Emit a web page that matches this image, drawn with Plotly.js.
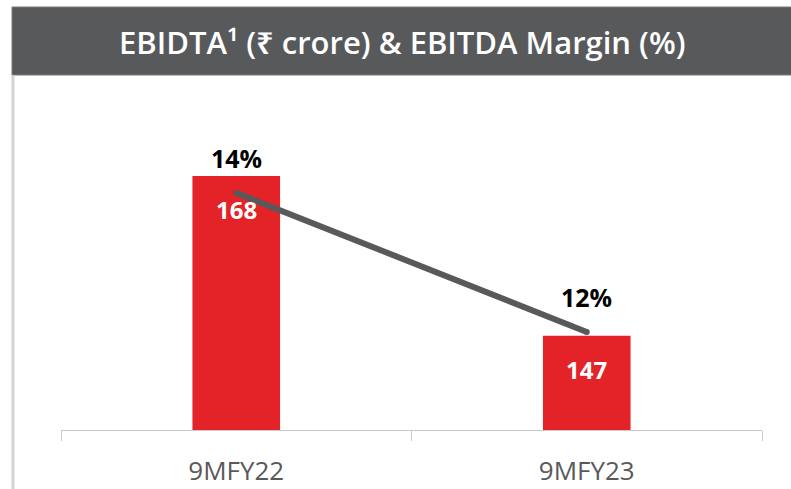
<!DOCTYPE html>
<html>
<head>
<meta charset="utf-8">
<script src="https://cdn.plot.ly/plotly-3.0.1.min.js"></script>
<style>html,body{margin:0;padding:0;background:#fff;}#chart{width:791px;height:489px;}</style>
</head>
<body>
<div id="chart"></div>
<script>
const categories = ["9MFY22", "9MFY23"];
const ebitda = [168, 147];
const margin = [14, 12];
const marginLabels = ["14%", "12%"];
const ebitdaLabels = ["168", "147"];
const titleText = "EBIDTA¹ (₹ crore) & EBITDA Margin (%)";

const FONT = "Open Sans, Noto Sans, sans-serif";

const bars = {
  type: "bar",
  x: categories,
  y: ebitda,
  base: 0,
  width: 0.25,
  marker: {color: "#e42328", line: {width: 0}},
  hoverinfo: "skip",
  showlegend: false
};
const line = {
  type: "scatter",
  mode: "lines+markers",
  x: categories,
  y: margin,
  yaxis: "y2",
  line: {color: "#58595b", width: 6},
  marker: {color: "#58595b", size: 6},
  hoverinfo: "skip",
  showlegend: false
};

const annotations = [];
categories.forEach((c, i) => {
  annotations.push({
    x: c, y: margin[i], xref: "x", yref: "y2",
    text: marginLabels[i], showarrow: false, yshift: 35,
    font: {family: FONT, size: 25, color: "#000", weight: 700}
  });
  annotations.push({
    x: c, y: ebitda[i], xref: "x", yref: "y",
    text: ebitdaLabels[i], showarrow: false, yshift: -34,
    font: {family: FONT, size: 24, color: "#fff", weight: 700}
  });
});
annotations.push({
  x: 0.487, y: 1.208, xref: "paper", yref: "paper",
  text: titleText, showarrow: false,
  font: {family: FONT, size: 31, color: "#ffffff", weight: 600}
});

const layout = {
  width: 791, height: 489,
  margin: {l: 61, r: 29, t: 90, b: 59},
  paper_bgcolor: "#ffffff",
  plot_bgcolor: "#ffffff",
  barmode: "overlay",
  xaxis: {
    type: "category",
    showline: true, linecolor: "#c9c9c9", linewidth: 1,
    ticks: "outside", tickson: "boundaries", ticklen: 10, tickcolor: "#c9c9c9",
    showgrid: false, zeroline: false,
    tickfont: {family: FONT, size: 26, color: "#595959"},
    ticklabelstandoff: 18
  },
  yaxis: {range: [134.6, 179.3], visible: false, fixedrange: true},
  yaxis2: {range: [10.59, 15.48], overlaying: "y", visible: false},
  shapes: [
    {type: "rect", xref: "paper", yref: "paper",
     x0: -0.0699, x1: 1.05, y0: 1.0441, y1: 1.2441,
     fillcolor: "#58595b", line: {color: "#7a7a7a", width: 1}, layer: "above"},
    {type: "line", xref: "paper", yref: "paper",
     x0: -0.0685, x1: -0.0685, y0: -0.2, y1: 1.0441,
     line: {color: "#d3d3d3", width: 3}}
  ],
  annotations: annotations
};

Plotly.newPlot("chart", [bars, line], layout, {displayModeBar: false, staticPlot: true});
</script>
</body>
</html>
